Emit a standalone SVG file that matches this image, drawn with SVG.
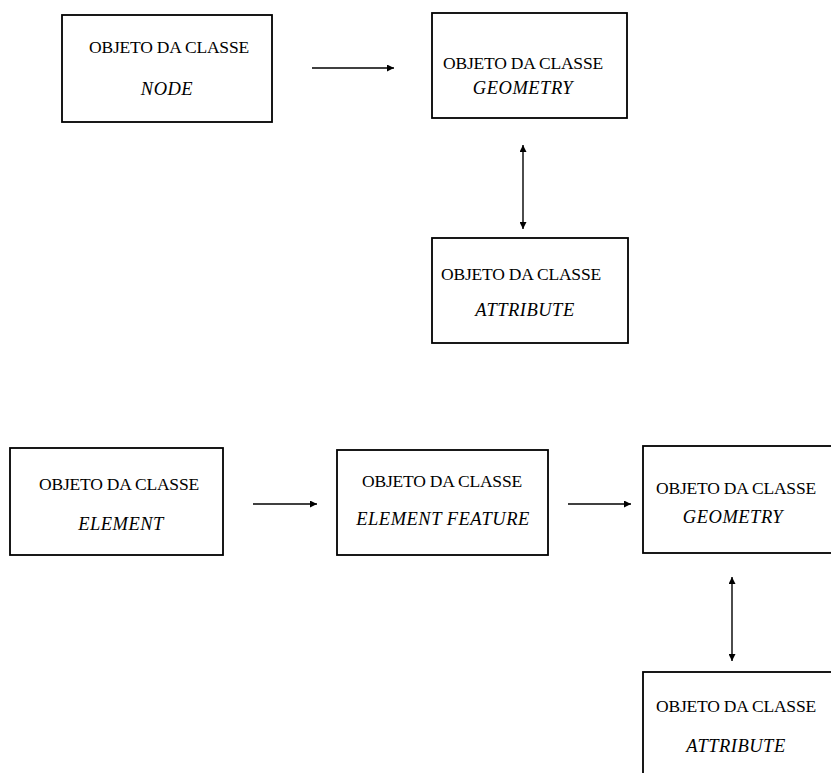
<svg xmlns="http://www.w3.org/2000/svg" width="831" height="773" viewBox="0 0 831 773">
  <style>
    .box { fill: #ffffff; stroke: #000000; stroke-width: 1.8; }
    .lbl { font-family: "Liberation Serif", "Times New Roman", serif; font-size: 17.5px; fill: #000000; text-anchor: middle; letter-spacing: -0.2px; }
    .cls { font-family: "Liberation Serif", "Times New Roman", serif; font-size: 18.5px; font-style: italic; fill: #000000; text-anchor: middle; letter-spacing: 0.5px; }
    .link { stroke: #000000; stroke-width: 1.4; fill: none; }
  </style>
  <defs>
    <marker id="head" viewBox="0 0 10 10" refX="10" refY="5" markerWidth="10" markerHeight="7" markerUnits="userSpaceOnUse" orient="auto-start-reverse">
      <path d="M0,0 L10,5 L0,10 z" fill="#000000"/>
    </marker>
  </defs>
  <rect width="831" height="773" fill="#ffffff"/>

  <!-- upper group: node -> geometry <-> attribute -->
  <g id="node-top">
    <rect class="box" x="62" y="15" width="210" height="107"/>
    <text class="lbl" x="169" y="53">OBJETO DA CLASSE</text>
    <text class="cls" x="167" y="95">NODE</text>
  </g>
  <g id="geometry-top">
    <rect class="box" x="432" y="13" width="195" height="105"/>
    <text class="lbl" x="523" y="69">OBJETO DA CLASSE</text>
    <text class="cls" x="523" y="94">GEOMETRY</text>
  </g>
  <g id="attribute-top">
    <rect class="box" x="432" y="238" width="196" height="105"/>
    <text class="lbl" x="521" y="280">OBJETO DA CLASSE</text>
    <text class="cls" x="525" y="316">ATTRIBUTE</text>
  </g>

  <!-- lower group: element -> element feature -> geometry <-> attribute -->
  <g id="element">
    <rect class="box" x="10" y="448" width="213" height="107"/>
    <text class="lbl" x="119" y="490">OBJETO DA CLASSE</text>
    <text class="cls" x="121" y="530">ELEMENT</text>
  </g>
  <g id="element-feature">
    <rect class="box" x="337" y="450" width="211" height="105"/>
    <text class="lbl" x="442" y="487">OBJETO DA CLASSE</text>
    <text class="cls" x="443" y="525">ELEMENT FEATURE</text>
  </g>
  <g id="geometry-bottom">
    <rect class="box" x="643" y="446" width="190" height="107"/>
    <text class="lbl" x="736" y="494">OBJETO DA CLASSE</text>
    <text class="cls" x="733" y="523">GEOMETRY</text>
  </g>
  <g id="attribute-bottom">
    <rect class="box" x="643" y="672" width="190" height="110"/>
    <text class="lbl" x="736" y="712">OBJETO DA CLASSE</text>
    <text class="cls" x="736" y="752">ATTRIBUTE</text>
  </g>

  <g id="connectors">
    <line class="link" x1="312" y1="68" x2="394" y2="68" marker-end="url(#head)"/>
    <line class="link" x1="523" y1="145" x2="523" y2="229" marker-start="url(#head)" marker-end="url(#head)"/>
    <line class="link" x1="253" y1="504" x2="317" y2="504" marker-end="url(#head)"/>
    <line class="link" x1="568" y1="504" x2="631" y2="504" marker-end="url(#head)"/>
    <line class="link" x1="732" y1="577" x2="732" y2="661" marker-start="url(#head)" marker-end="url(#head)"/>
  </g>
</svg>
